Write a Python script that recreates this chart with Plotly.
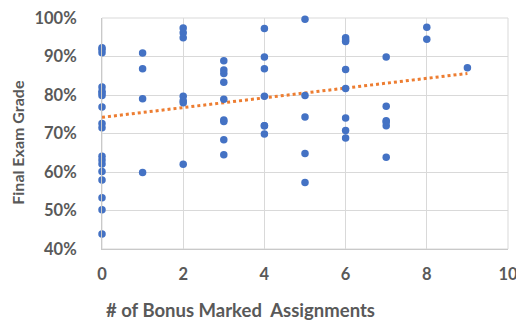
import plotly.graph_objects as go

# bonus assignments vs final exam grade
bonus = [0] * 18 + [1] * 4 + [2] * 7 + [3] * 9 + [4] * 7 + [5] * 5 + [6] * 8 + [7] * 6 + [8] * 2 + [9]
grade = [
    92.3, 91.8, 91.0, 82.1, 81.0, 79.9, 76.9, 72.6, 71.5, 64.1, 63.1, 62.1, 60.1, 57.9, 53.3, 50.2, 43.9, 80.5,
    90.9, 86.8, 79.0, 59.9,
    97.4, 96.2, 94.9, 79.7, 78.5, 78.0, 62.0,
    88.9, 86.5, 85.6, 83.3, 78.9, 73.5, 73.1, 68.4, 64.5,
    97.3, 89.9, 86.8, 79.7, 72.0, 72.0, 69.9,
    99.7, 79.9, 74.3, 64.8, 57.3,
    94.9, 94.3, 93.9, 86.6, 81.7, 74.0, 70.8, 68.8,
    89.9, 77.1, 73.3, 72.0, 63.8, 73.0,
    97.6, 94.5,
    87.1,
]
grade = [g / 100 for g in grade]

trend_x = [0, 9]
trend_y = [0.742, 0.856]

x_ticks = [0, 2, 4, 6, 8, 10]
y_ticks = [0.4, 0.5, 0.6, 0.7, 0.8, 0.9, 1.0]

fig = go.Figure()
fig.add_trace(go.Scatter(
    x=trend_x, y=trend_y, mode="lines",
    line=dict(color="#ED7D31", width=3, dash="dot"),
    hoverinfo="skip",
))
fig.add_trace(go.Scatter(
    x=bonus, y=grade, mode="markers",
    marker=dict(color="#4472C4", size=7.5),
    cliponaxis=False,
))

grey = "#595959"
tick_font = dict(size=16.5, family="Lato", color=grey, weight="bold")

# the page has an 8px body margin, so the figure is a bit smaller and shifted
fig.update_layout(
    width=516, height=316,
    margin=dict(l=94, r=16, t=10, b=75),
    paper_bgcolor="white", plot_bgcolor="white",
    showlegend=False,
    xaxis=dict(
        range=[0, 10], tickvals=x_ticks, showgrid=True, gridcolor="#d9d9d9",
        showline=True, linecolor="#c9c9c9", zeroline=False, ticks="",
        tickfont=tick_font, automargin=False, ticklabelstandoff=10,
        ticklabeloverflow="allow",
    ),
    yaxis=dict(
        range=[0.4, 1.0], tickvals=y_ticks, tickformat=".0%", showgrid=True, gridcolor="#d9d9d9",
        showline=True, linecolor="#c9c9c9", zeroline=False, ticks="", ticklabelstandoff=21,
        tickfont=tick_font, automargin=False, ticklabeloverflow="allow",
    ),
)
fig.add_annotation(
    text="# of Bonus Marked  Assignments", xref="paper", yref="paper",
    x=0.34, y=0, yshift=-61, xanchor="center", yanchor="middle", showarrow=False,
    font=dict(size=18.5, family="Lato", color=grey, weight="bold"),
)
fig.add_annotation(
    text="Final Exam Grade", xref="paper", yref="paper", textangle=-90,
    x=0, xshift=-84, y=0.46, xanchor="center", yanchor="middle", showarrow=False,
    font=dict(size=16, family="Lato", color=grey, weight="bold"),
)
# right/top border like the gridlines
fig.add_shape(type="rect", xref="paper", yref="paper", x0=0, y0=0, x1=1, y1=1,
              line=dict(color="#d9d9d9", width=1), layer="below")

fig.write_html("out.html")
